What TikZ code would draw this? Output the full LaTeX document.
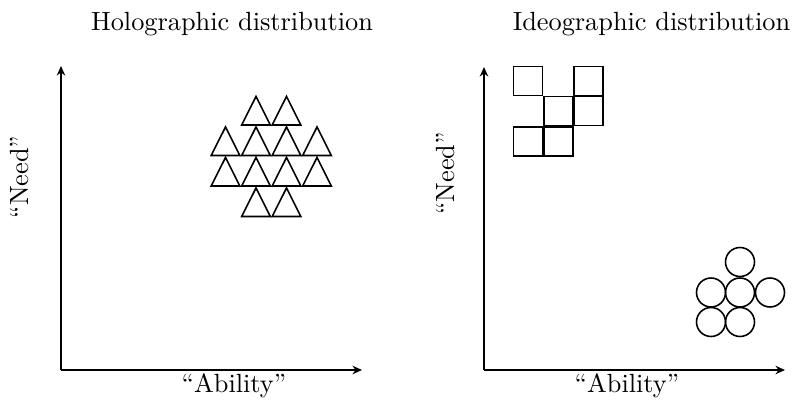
\documentclass[tikz,border=0pt]{standalone}
\usetikzlibrary{arrows.meta}
\begin{document}
\begin{tikzpicture}[
x=0.38pt,y=0.38pt,
axis/.style={thick,-{Stealth[length=3.6pt,width=3.2pt]}},
tri/.style={semithick},
sq/.style={draw,semithick,rectangle,inner sep=0pt,minimum size={29*0.38pt}},
dot/.style={draw,semithick,circle,inner sep=0pt,minimum size={29*0.38pt}}
]
\useasboundingbox (0,0) rectangle (798,404);
% titles
\node[anchor=base] (holo) at (232,373) {Holographic distribution};
\node[anchor=base] (ideo) at (651.5,373) {Ideographic distribution};
% left axes
\coordinate (o1) at (61,34);
\coordinate (y1) at (61,338);
\coordinate (x1) at (362,34);
\draw[axis] (o1) -- (y1);
\draw[axis] (o1) -- (x1);
\node[anchor=base] (ab1) at (234,12) {``Ability''};
\node[rotate=90] (ne1) at (20,227) {``Need''};
% right axes
\coordinate (o2) at (484,34);
\coordinate (y2) at (484,337);
\coordinate (x2) at (785,34);
\draw[axis] (o2) -- (y2);
\draw[axis] (o2) -- (x2);
\node[anchor=base] (ab2) at (627,12) {``Ability''};
\node[rotate=90] (ne2) at (446,230.5) {``Need''};
% triangles
\foreach \x/\y in {256/279,286.5/279,
  225.5/248.5,256/248.5,286.5/248.5,317/248.5,
  225.5/218,256/218,286.5/218,317/218,
  256/187.5,286.5/187.5}
  \draw[tri] (\x-14.3,\y) -- (\x,\y+28.5) -- (\x+14.3,\y) -- cycle;
% squares
\node[sq] (s1) at (528,323) {};
\node[sq] (s2) at (588.5,323) {};
\node[sq] (s3) at (558.5,293) {};
\node[sq] (s4) at (588.5,293) {};
\node[sq] (s5) at (528,262.5) {};
\node[sq] (s6) at (558.5,262.5) {};
% circles
\node[dot] (c1) at (740,142) {};
\node[dot] (c2) at (711,111.5) {};
\node[dot] (c3) at (740,111.5) {};
\node[dot] (c4) at (770,111.5) {};
\node[dot] (c5) at (711,82) {};
\node[dot] (c6) at (740,82) {};
\end{tikzpicture}
\end{document}
